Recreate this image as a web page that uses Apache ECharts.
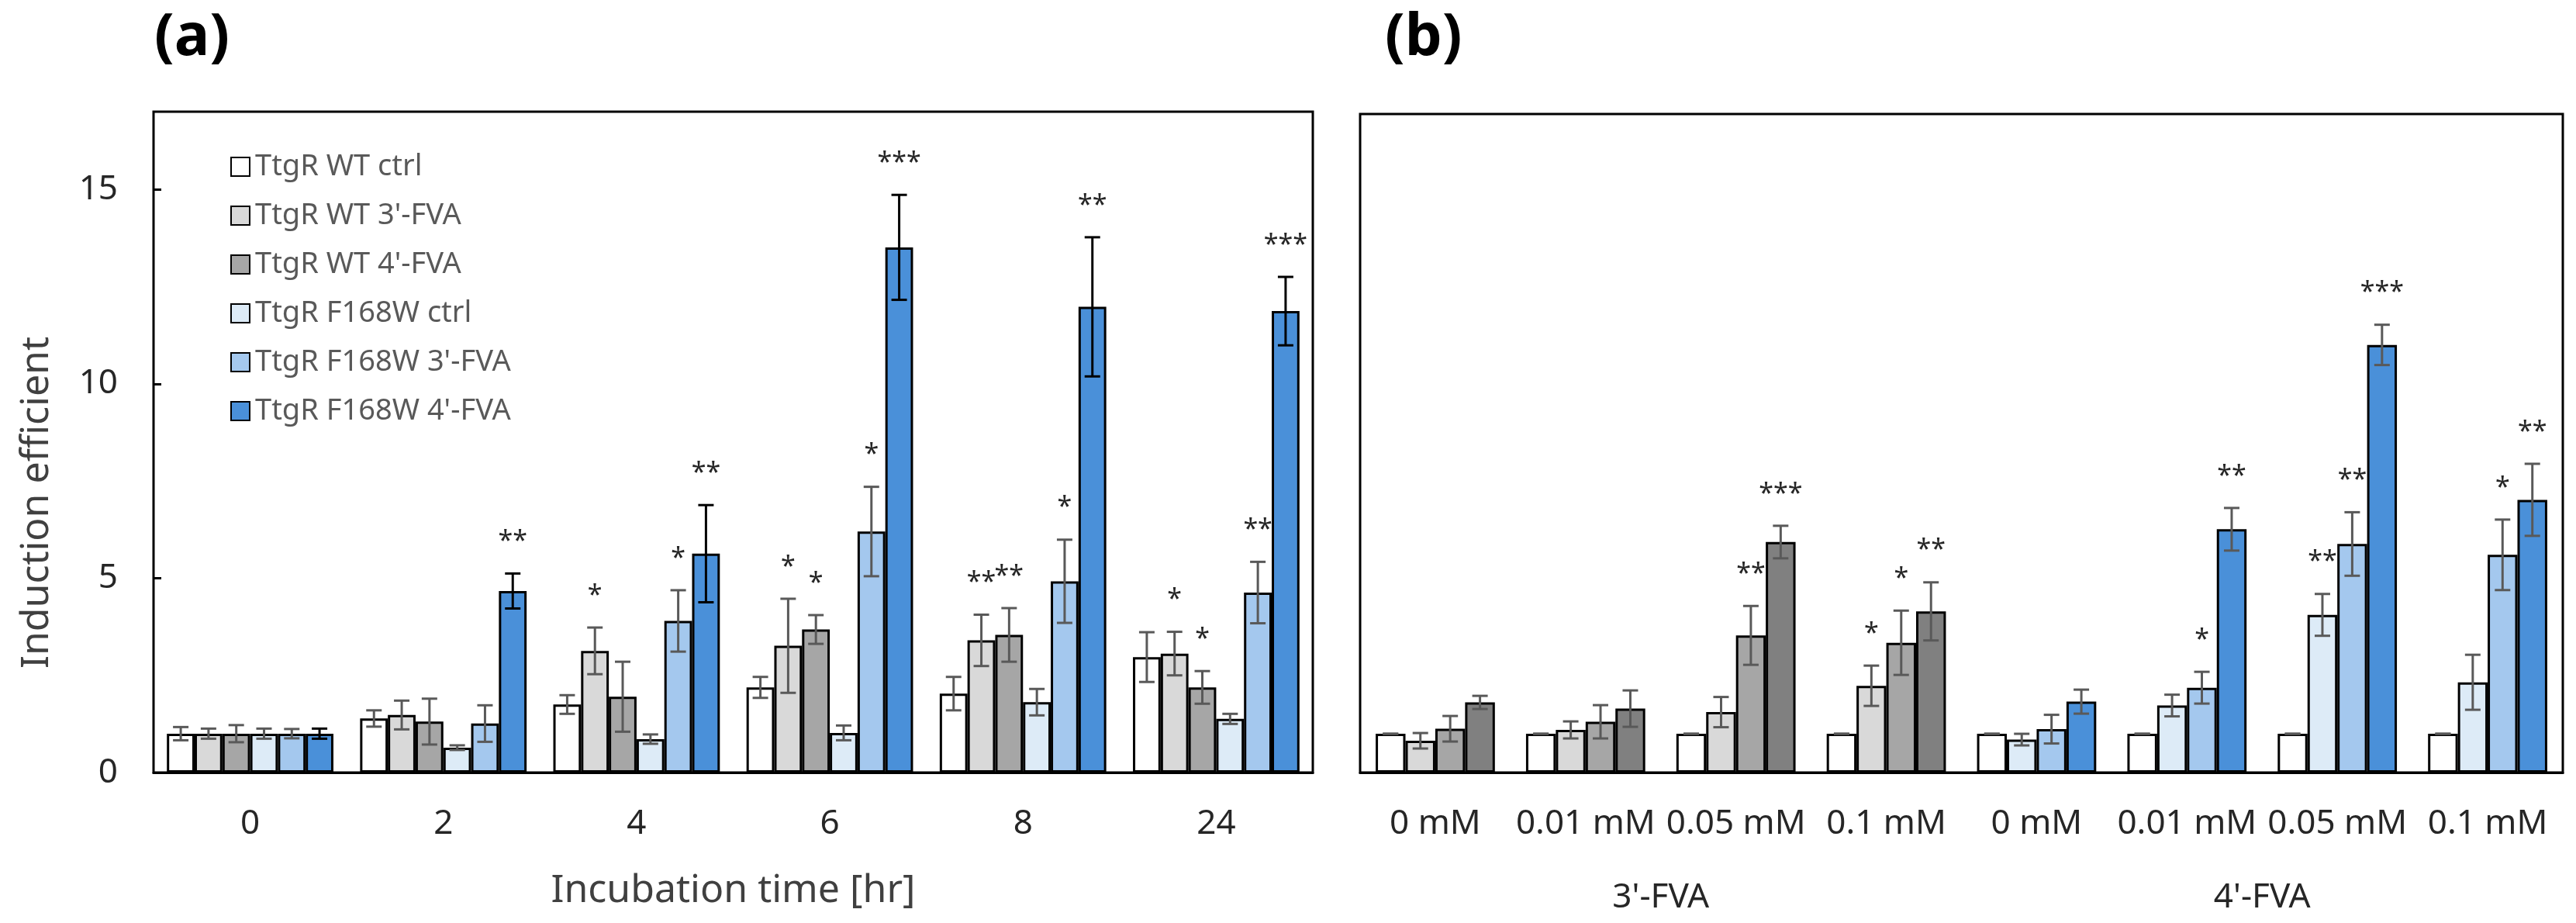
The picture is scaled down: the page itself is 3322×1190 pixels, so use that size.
<!DOCTYPE html>
<html>
<head>
<meta charset="utf-8">
<script src="https://cdn.jsdelivr.net/npm/echarts@6/dist/echarts.min.js"></script>
<style>
  html, body { margin: 0; padding: 0; background: #fff; }
  #chart { width: 3322px; height: 1190px; }
</style>
</head>
<body>
<div id="chart"></div>
<script>
// (a) time course
const timeCats = ['0', '2', '4', '6', '8', '24']
const seriesNames = ['TtgR WT ctrl', "TtgR WT 3'-FVA", "TtgR WT 4'-FVA", 'TtgR F168W ctrl', "TtgR F168W 3'-FVA", "TtgR F168W 4'-FVA"]

const wtCtrl = [1.0, 1.39, 1.75, 2.19, 2.03, 2.97]
const wtCtrlErr = [0.17, 0.21, 0.24, 0.27, 0.43, 0.64]
const wtCtrlSig = ['', '', '', '', '', '']
const wt3 = [1.0, 1.48, 3.13, 3.26, 3.40, 3.06]
const wt3Err = [0.13, 0.37, 0.60, 1.21, 0.66, 0.56]
const wt3Sig = ['', '', '*', '*', '**', '*']
const wt4 = [1.0, 1.31, 1.95, 3.68, 3.54, 2.19]
const wt4Err = [0.22, 0.59, 0.90, 0.37, 0.69, 0.42]
const wt4Sig = ['', '', '', '*', '**', '*']
const fCtrl = [1.0, 0.64, 0.86, 1.02, 1.81, 1.38]
const fCtrlErr = [0.13, 0.06, 0.12, 0.19, 0.34, 0.13]
const fCtrlSig = ['', '', '', '', '', '']
const f3 = [1.0, 1.26, 3.90, 6.20, 4.92, 4.63]
const f3Err = [0.12, 0.47, 0.79, 1.15, 1.07, 0.79]
const f3Sig = ['', '', '*', '*', '*', '**']
const f4 = [1.0, 4.67, 5.63, 13.51, 11.98, 11.87]
const f4Err = [0.13, 0.45, 1.25, 1.35, 1.79, 0.88]
const f4Sig = ['', '**', '**', '***', '**', '***']

// (b) concentration
const concCats = ['0 mM', '0.01 mM', '0.05 mM', '0.1 mM', '0 mM', '0.01 mM', '0.05 mM', '0.1 mM']
const drugCats = ["3'-FVA", "4'-FVA"]
const bCtrl = [1, 1, 1, 1, 1, 1, 1, 1]
const bCtrlErr = [0, 0, 0, 0, 0, 0, 0, 0]
const bCtrlSig = ['', '', '', '', '', '', '', '']
const bLow = [0.82, 1.10, 1.56, 2.24, 0.85, 1.73, 4.07, 2.33]
const bLowErr = [0.20, 0.22, 0.39, 0.52, 0.15, 0.28, 0.54, 0.71]
const bLowSig = ['', '', '', '*', '', '', '**', '']
const bMid = [1.13, 1.31, 3.54, 3.35, 1.12, 2.19, 5.90, 5.62]
const bMidErr = [0.33, 0.43, 0.76, 0.83, 0.37, 0.41, 0.82, 0.91]
const bMidSig = ['', '', '**', '*', '', '*', '**', '*']
const bHigh = [1.81, 1.65, 5.95, 4.16, 1.83, 6.28, 11.04, 7.04]
const bHighErr = [0.17, 0.47, 0.42, 0.75, 0.31, 0.55, 0.52, 0.93]
const bHighSig = ['', '', '***', '**', '', '**', '***', '**']

const colorsA = ['#ffffff', '#d9d9d9', '#a6a6a6', '#ddebf7', '#a4c8ee', '#4a90d9']
const greysB = ['#ffffff', '#d9d9d9', '#a6a6a6', '#808080']
const bluesB = ['#ffffff', '#ddebf7', '#a4c8ee', '#4a90d9']

const FONT = 'Noto Sans'
const GAP_A = 0.138
const GAP_B = 0.207

// error bar + star drawing, placed on the bar of series i out of n
function errorSeries (grid, i, n, gap, vals, errs, sigs, color) {
  return {
    type: 'custom',
    xAxisIndex: grid,
    yAxisIndex: grid,
    z: 5,
    silent: true,
    data: vals.map((v, k) => [k, v, errs[k]]),
    renderItem (params, api) {
      const cat = api.value(0)
      const v = api.value(1)
      const e = api.value(2)
      const sig = sigs[params.dataIndex]
      const band = api.size([1, 0])[0]
      const barW = band * (1 - gap) / n
      const x = api.coord([cat, v])[0] - band * (1 - gap) / 2 + (i + 0.5) * barW
      const yTop = api.coord([cat, v + e])[1]
      const yBot = api.coord([cat, v - e])[1]
      const cap = 10
      const st = { stroke: color, lineWidth: 3 }
      const kids = [
        { type: 'line', shape: { x1: x, y1: yTop, x2: x, y2: yBot }, style: st },
        { type: 'line', shape: { x1: x - cap, y1: yTop, x2: x + cap, y2: yTop }, style: st },
        { type: 'line', shape: { x1: x - cap, y1: yBot, x2: x + cap, y2: yBot }, style: st }
      ]
      if (sig) {
        kids.push({
          type: 'text',
          style: {
            text: sig, x: x, y: yTop - 24, align: 'center', verticalAlign: 'bottom',
            fontSize: 34, fontFamily: FONT, fill: '#262626'
          }
        })
      }
      return { type: 'group', children: kids }
    }
  }
}

const seriesA = [
  [wtCtrl, wtCtrlErr, wtCtrlSig],
  [wt3, wt3Err, wt3Sig],
  [wt4, wt4Err, wt4Sig],
  [fCtrl, fCtrlErr, fCtrlSig],
  [f3, f3Err, f3Sig],
  [f4, f4Err, f4Sig]
]
const seriesB = [
  [bCtrl, bCtrlErr, bCtrlSig],
  [bLow, bLowErr, bLowSig],
  [bMid, bMidErr, bMidSig],
  [bHigh, bHighErr, bHighSig]
]

const series = []
seriesA.forEach((s, i) => {
  series.push({
    type: 'bar',
    name: seriesNames[i],
    xAxisIndex: 0,
    yAxisIndex: 0,
    data: s[0],
    barGap: '0%',
    barCategoryGap: (GAP_A * 100) + '%',
    itemStyle: { color: colorsA[i], borderColor: '#000', borderWidth: 3 }
  })
})
seriesA.forEach((s, i) => {
  series.push(errorSeries(0, i, 6, GAP_A, s[0], s[1], s[2], i === 5 ? '#000' : '#595959'))
})
seriesB.forEach((s, i) => {
  series.push({
    type: 'bar',
    name: 'b' + i,
    xAxisIndex: 1,
    yAxisIndex: 1,
    data: s[0].map((v, k) => ({ value: v, itemStyle: { color: k < 4 ? greysB[i] : bluesB[i] } })),
    barGap: '0%',
    barCategoryGap: (GAP_B * 100) + '%',
    itemStyle: { borderColor: '#000', borderWidth: 3 }
  })
})
seriesB.forEach((s, i) => {
  series.push(errorSeries(1, i, 4, GAP_B, s[0], s[1], s[2], '#595959'))
})

const yBase = {
  type: 'value',
  min: 0,
  max: 17,
  interval: 5,
  splitLine: { show: false },
  axisLine: { show: false }
}

const chart = echarts.init(document.getElementById('chart'), null, { renderer: 'canvas' })
chart.setOption({
  backgroundColor: '#fff',
  animation: false,
  textStyle: { fontFamily: FONT },
  title: [
    { text: '(a)', left: 194, top: 6, textStyle: { fontSize: 76, fontWeight: 'bold', color: '#000', fontFamily: FONT } },
    { text: '(b)', left: 1781, top: 6, textStyle: { fontSize: 76, fontWeight: 'bold', color: '#000', fontFamily: FONT } }
  ],
  // y title sits lower than the plot centre in the original
  graphic: [
    {
      type: 'text', x: 48, y: 648, rotation: Math.PI / 2,
      style: { text: 'Induction efficient', align: 'center', verticalAlign: 'middle', fontSize: 50, fontFamily: FONT, fill: '#404040' }
    }
  ],
  legend: {
    data: seriesNames,
    orient: 'vertical',
    left: 292,
    top: 190,
    icon: 'rect',
    itemWidth: 24,
    itemHeight: 24,
    itemGap: 23,
    textStyle: { fontSize: 38, color: '#595959', fontFamily: FONT, lineHeight: 40, padding: [0, 0, 0, 2] }
  },
  grid: [
    { left: 198, right: 3322 - 1693, top: 144, bottom: 1190 - 996, show: true, borderColor: '#000', borderWidth: 3, backgroundColor: '#fff' },
    { left: 1754, right: 3322 - 3305, top: 147, bottom: 1190 - 996, show: true, borderColor: '#000', borderWidth: 3, backgroundColor: '#fff' }
  ],
  xAxis: [
    {
      type: 'category', gridIndex: 0, data: timeCats,
      axisLine: { lineStyle: { color: '#000', width: 3 } },
      axisTick: { show: false },
      axisLabel: { fontSize: 44, color: '#262626', margin: 44, lineHeight: 44, fontFamily: FONT },
      name: 'Incubation time [hr]', nameLocation: 'middle', nameGap: 128,
      nameTextStyle: { fontSize: 50, color: '#404040', fontFamily: FONT }
    },
    {
      type: 'category', gridIndex: 1, data: concCats,
      axisLine: { lineStyle: { color: '#000', width: 3 } },
      axisTick: { show: false },
      axisLabel: { fontSize: 44, color: '#262626', margin: 44, lineHeight: 44, interval: 0, fontFamily: FONT }
    },
    {
      type: 'category', gridIndex: 1, data: drugCats, position: 'bottom',
      axisLine: { show: false },
      axisTick: { show: false },
      axisLabel: { fontSize: 44, color: '#262626', margin: 139, lineHeight: 44, fontFamily: FONT }
    }
  ],
  yAxis: [
    Object.assign({}, yBase, {
      gridIndex: 0,
      axisTick: { show: true, inside: true, length: 10, lineStyle: { color: '#000', width: 3 } },
      axisLabel: { fontSize: 44, color: '#262626', margin: 46, showMaxLabel: false, fontFamily: FONT }
    }),
    Object.assign({}, yBase, {
      gridIndex: 1,
      axisTick: { show: false },
      axisLabel: { show: false }
    })
  ],
  series: series
})
</script>
</body>
</html>
